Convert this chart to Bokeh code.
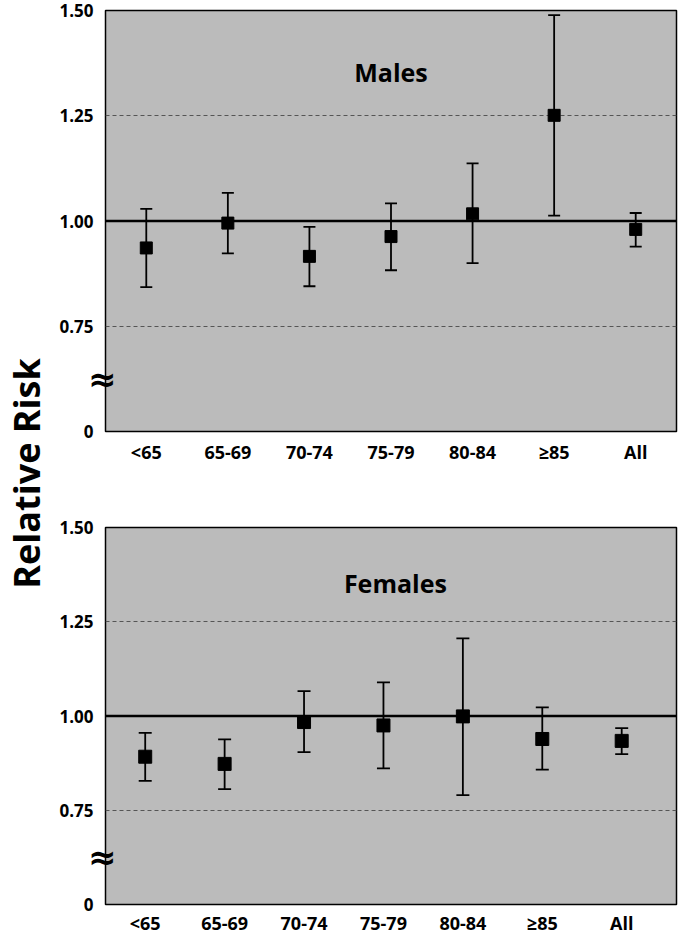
import math
from bokeh.plotting import figure
from bokeh.models import (ColumnDataSource, Whisker, TeeHead, Span, Label,
                          FixedTicker, Range1d, LinearAxis)
from bokeh.layouts import row, column
from bokeh.embed import file_html
from bokeh.resources import INLINE

# ---- data ----
categories = ["<65", "65-69", "70-74", "75-79", "80-84", "≥85", "All"]
male_rr = [0.936, 0.995, 0.916, 0.963, 1.017, 1.251, 0.980]
male_lo = [0.843, 0.923, 0.845, 0.883, 0.900, 1.013, 0.939]
male_hi = [1.029, 1.067, 0.986, 1.042, 1.137, 1.489, 1.019]
female_rr = [0.892, 0.873, 0.984, 0.975, 0.999, 0.939, 0.934]
female_lo = [0.828, 0.806, 0.904, 0.861, 0.790, 0.858, 0.899]
female_hi = [0.955, 0.938, 1.066, 1.089, 1.206, 1.023, 0.968]
y_ticks = [0.5, 0.75, 1.0, 1.25, 1.5]
y_tick_labels = ["0", "0.75", "1.00", "1.25", "1.50"]
break_tick = [0.625]
break_label = ["≈"]
panel_titles = ["Males", "Females"]
y_title = "Relative Risk"

FONT = "Open Sans"
BG = "#bbbbbb"


def style_axis(ax):
    ax.axis_line_color = None
    ax.major_tick_line_color = None
    ax.minor_tick_line_color = None
    ax.major_tick_out = 0
    ax.major_tick_in = 0
    ax.minor_tick_out = 0
    ax.minor_tick_in = 0
    ax.major_label_text_font_style = "bold"
    ax.major_label_text_color = "black"


def panel(rr, lo, hi, title, height, x_end, mb_top, mb_bottom, mb_left,
          msize, title_x, title_y, x_standoff):
    xs = list(range(len(categories)))
    src = ColumnDataSource(dict(x=xs, rr=rr, lo=lo, hi=hi))
    p = figure(width=628, height=height, x_range=Range1d(-0.5, x_end),
               y_range=Range1d(0.5, 1.5), output_backend="svg",
               toolbar_location=None, min_border_left=mb_left,
               min_border_right=2, min_border_top=mb_top,
               min_border_bottom=mb_bottom)
    p.background_fill_color = BG
    p.border_fill_color = "white"
    p.outline_line_color = "black"
    p.outline_line_width = 1.5

    # axes
    yax = p.yaxis[0]
    xax = p.xaxis[0]
    style_axis(yax)
    style_axis(xax)
    yax.ticker = FixedTicker(ticks=y_ticks)
    yax.major_label_overrides = {t: l for t, l in zip(y_ticks, y_tick_labels)}
    yax.major_label_text_font = FONT
    yax.major_label_text_font_size = "17px"
    yax.major_label_standoff = -8
    xax.ticker = FixedTicker(ticks=xs)
    xax.major_label_overrides = {i: c for i, c in enumerate(categories)}
    xax.major_label_text_font = FONT
    xax.major_label_text_font_size = "18px"
    xax.major_label_standoff = x_standoff

    # axis-break symbol, drawn as an inner axis label straddling the frame edge
    bax = LinearAxis(ticker=FixedTicker(ticks=break_tick),
                     major_label_overrides={t: l for t, l in zip(break_tick, break_label)})
    style_axis(bax)
    bax.major_label_text_font = "DejaVu Sans"
    bax.major_label_text_font_size = "34px"
    bax.major_label_standoff = -11
    p.left = [bax, yax]

    # grid
    p.xgrid.visible = False
    p.ygrid.ticker = FixedTicker(ticks=[0.75, 1.25])
    p.ygrid.grid_line_color = "#555555"
    p.ygrid.grid_line_dash = "4 3"
    p.ygrid.grid_line_width = 1

    p.add_layout(Span(location=1.0, dimension="width", line_color="black",
                      line_width=2.5))

    w = Whisker(base="x", upper="hi", lower="lo", source=src,
                dimension="height", line_width=1.8, line_color="black",
                upper_head=TeeHead(size=msize, line_width=1.8, line_color="black"),
                lower_head=TeeHead(size=msize, line_width=1.8, line_color="black"))
    w.level = "glyph"
    p.add_layout(w)
    p.scatter("x", "rr", source=src, marker="square", size=msize,
              color="black")

    p.add_layout(Label(x=title_x, y=title_y, text=title, text_font=FONT,
                       text_font_style="bold", text_font_size="25px",
                       text_color="black",
                       text_align="center", text_baseline="middle"))
    return p


top = panel(male_rr, male_lo, male_hi, panel_titles[0], 515, 6.5, 10, 84, 55,
            12, 3.0, 1.355, 8)
bottom = panel(female_rr, female_lo, female_hi, panel_titles[1], 422, 6.69,
               12, 31, 49, 13, 3.15, 1.353, 6)

lab = figure(width=50, height=937, x_range=Range1d(0, 50),
             y_range=Range1d(0, 937), output_backend="svg",
             toolbar_location=None, min_border=0)
lab.axis.visible = False
lab.grid.visible = False
lab.outline_line_color = None
lab.add_layout(Label(x=26, y=937 - 473, text=y_title, angle=math.pi / 2,
                     text_font=FONT, text_font_style="bold",
                     text_font_size="36px", text_color="black",
                     text_align="center", text_baseline="middle"))

layout = row(lab, column(top, bottom))
open("out.html", "w").write(file_html(layout, INLINE))
